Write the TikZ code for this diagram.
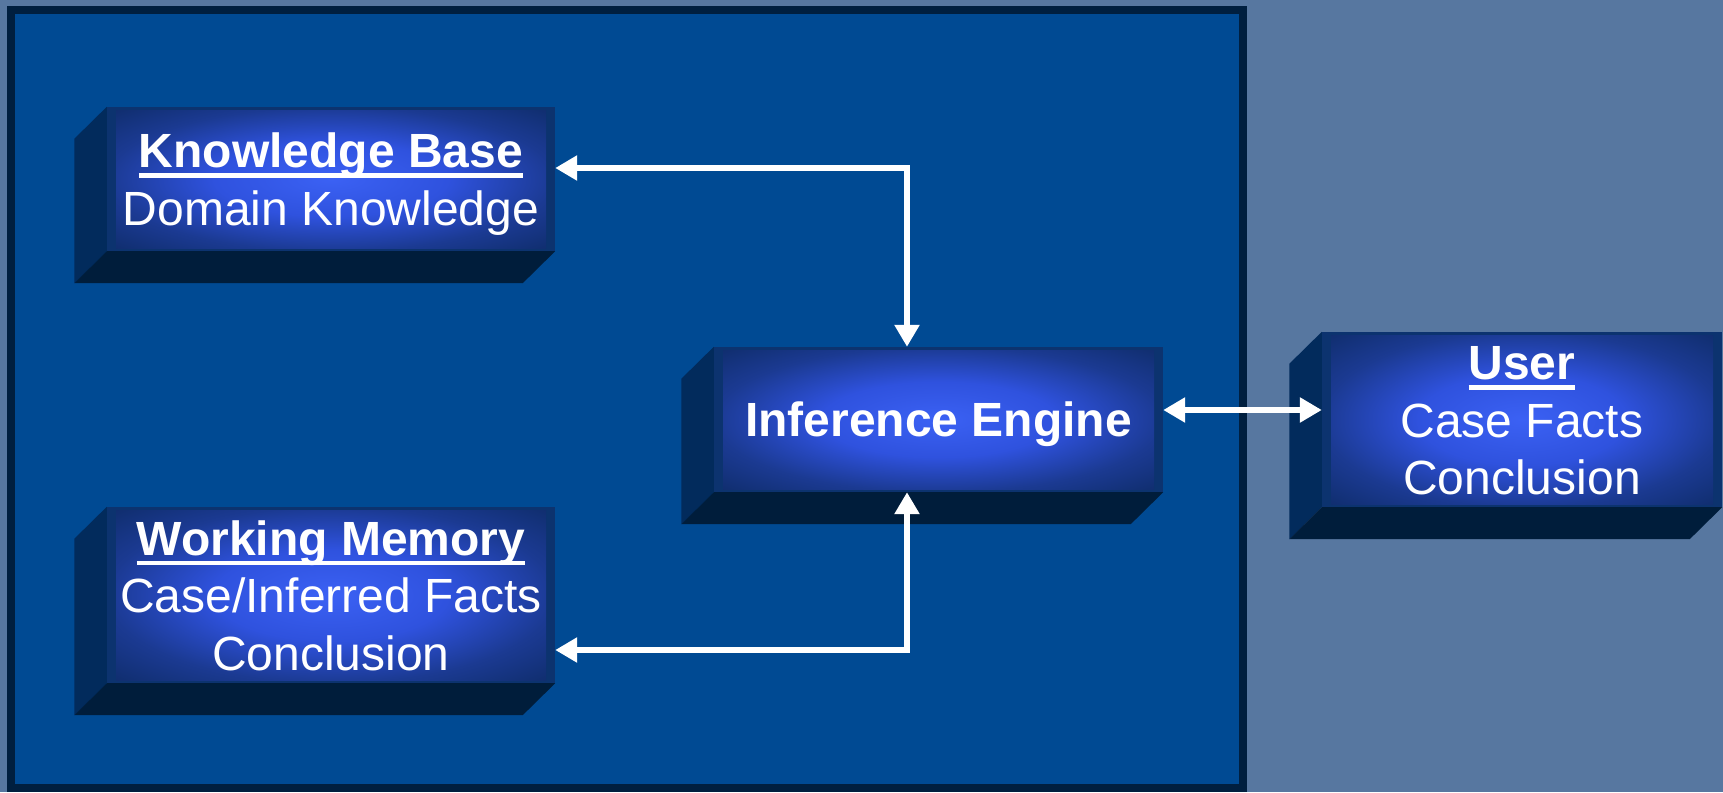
\documentclass[tikz,border=0pt]{standalone}
\usepackage{fontspec}
\setmainfont{Liberation Sans}
\usetikzlibrary{arrows.meta,calc}
\definecolor{bgc}{HTML}{5777A0}
\definecolor{panelc}{HTML}{004A93}
\definecolor{panelb}{HTML}{001F3F}
\definecolor{rimc}{HTML}{0C336F}
\definecolor{leftc}{HTML}{022B5C}
\definecolor{botc}{HTML}{001D3B}
\definecolor{glowa}{HTML}{3B61F4}
\definecolor{glowb}{HTML}{2F52DE}
\definecolor{glowc}{HTML}{1B3A92}
\definecolor{glowd}{HTML}{0F2D6C}
\pgfdeclareradialshading{boxglow}{\pgfpoint{0bp}{0bp}}{color(0bp)=(glowa); color(13bp)=(glowb); color(25bp)=(glowc); color(35bp)=(glowd); color(50bp)=(glowd)}
\newcommand\myul[1]{\setbox0\hbox{#1}\rlap{\rule[-10.3pt]{\wd0}{4.7pt}}\box0}
\newcommand\topst{\rule{0pt}{45pt}}
\newcommand\botst{\rule[-10pt]{0pt}{10pt}}
\newcommand\drawbevel[1]{%
  \fill[leftc] (#1.north west) -- (#1.south west) -- ([xshift=-32.5pt,yshift=-32pt]#1.south west) -- ([xshift=-32.5pt,yshift=-32pt]#1.north west) -- cycle;
  \fill[botc] (#1.south west) -- (#1.south east) -- ([xshift=-32.5pt,yshift=-32pt]#1.south east) -- ([xshift=-32.5pt,yshift=-32pt]#1.south west) -- cycle;
}
\tikzset{
  face/.style={fill=rimc, inner sep=0pt, text=white, align=center,
    font=\fontsize{48}{57.5}\selectfont,
    path picture={\shade[shading=boxglow] ([xshift=9pt,yshift=-3pt]path picture bounding box.north west) rectangle ([xshift=-9pt,yshift=3pt]path picture bounding box.south east);}},
  link/.style={draw=white, line width=5.5pt,
    {Triangle[width=24pt,length=22pt]}-{Triangle[width=24pt,length=22pt]}},
}
\begin{document}
\begin{tikzpicture}[x=1pt,y=-1pt]
\useasboundingbox (0,0) rectangle (1723,792);
\fill[bgc] (0,0) rectangle (1723,792);
\draw[panelb, fill=panelc, line width=8pt] (11,10) rectangle (1243,788);

\node[face, minimum width=448pt, minimum height=144pt] (kb) at (331,179)
  {\topst\myul{\textbf{Knowledge Base}}\\Domain Knowledge\botst};
\node[face, minimum width=448pt, minimum height=176pt] (wm) at (331,595)
  {\topst\myul{\textbf{Working Memory}}\\Case/Inferred Facts\\Conclusion\botst};
\node[face, minimum width=449pt, minimum height=145pt] (ie) at (938.5,419.5)
  {\topst\textbf{Inference Engine}\botst};
\node[face, minimum width=400pt, minimum height=175pt] (user) at (1522,419.5)
  {\topst\myul{\textbf{User}}\\Case Facts\\Conclusion\botst};

\drawbevel{kb}
\drawbevel{wm}
\drawbevel{ie}
\drawbevel{user}

\draw[link] ([yshift=11pt]kb.east) -| ([xshift=-31.5pt]ie.north);
\draw[link] ([yshift=-55pt]wm.east) -| ([xshift=-31.5pt]ie.south);
\draw[link] ([yshift=9.5pt]ie.east) -- ([yshift=9.5pt]user.west);
\end{tikzpicture}
\end{document}
